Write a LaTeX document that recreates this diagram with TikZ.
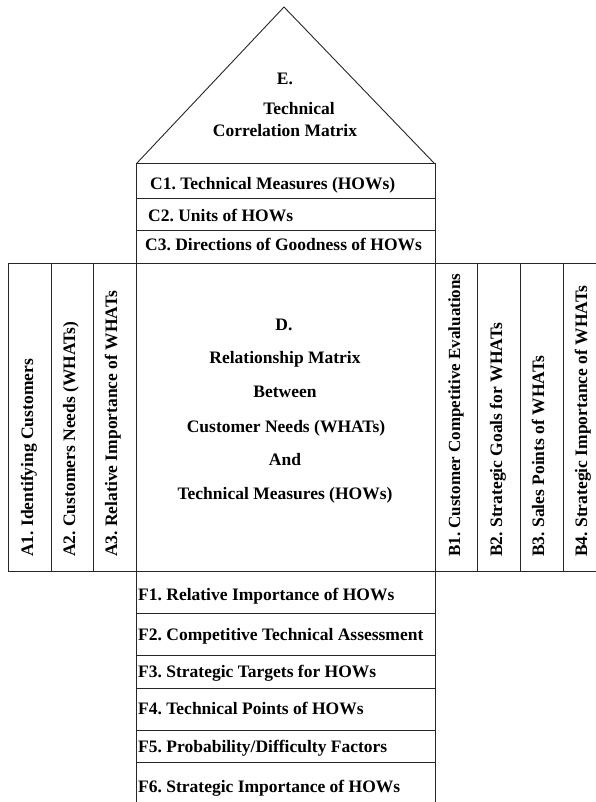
\documentclass[tikz,border=0pt]{standalone}
\usepackage{fontspec}
\setmainfont{Liberation Serif}
\frenchspacing
\begin{document}
\begin{tikzpicture}[x=1pt,y=-1pt,
  frame/.style={line width=0.9pt, black!85},
  lbl/.style={font=\fontsize{17.5}{20}\selectfont\bfseries\frenchspacing, inner sep=0pt},
  vlbl/.style={lbl, rotate=90, anchor=base west}]
\useasboundingbox (0,0) rectangle (595,802);
% roof
\draw[frame] (137,163) -- (284,7) -- (434,163);
% main column
\draw[frame] (136,163) -- (136,802);
\draw[frame] (435,163) -- (435,802);
\foreach \yy in {163,198,230,613,655,688,730,762}
  \draw[frame] (136,\yy) -- (435,\yy);
% wide horizontal lines
\draw[frame] (8,263) -- (596,263);
\draw[frame] (8,571) -- (596,571);
% side columns
\foreach \xx in {8,51,93,477,520,563}
  \draw[frame] (\xx,263) -- (\xx,571);
% roof text
\node[lbl, anchor=base] (e1) at (285,85) {E.};
\node[lbl, anchor=base] (e2) at (299,115) {Technical};
\node[lbl, anchor=base] (e3) at (285,137) {Correlation Matrix};
% C rows
\node[lbl, anchor=base west] (c1) at (150,190) {C1. Technical Measures (HOWs)};
\node[lbl, anchor=base west] (c2) at (148,222) {C2. Units of HOWs};
\node[lbl, anchor=base west] (c3) at (145,251) {C3. Directions of Goodness of HOWs};
% D text
\node[lbl, anchor=base] (d1) at (284,330) {D.};
\node[lbl, anchor=base] (d2) at (285,363) {Relationship Matrix};
\node[lbl, anchor=base] (d3) at (285,397) {Between};
\node[lbl, anchor=base] (d4) at (286,432) {Customer Needs (WHATs)};
\node[lbl, anchor=base] (d5) at (285,465) {And};
\node[lbl, anchor=base] (d6) at (285,499) {Technical Measures (HOWs)};
% A columns
\node[vlbl] (a1) at (33,557) {A1. Identifying Customers};
\node[vlbl] (a2) at (75,557) {A2. Customers Needs (WHATs)};
\node[vlbl] (a3) at (117,557) {A3. Relative Importance of WHATs};
% B columns
\node[vlbl, font=\fontsize{17}{20}\selectfont\bfseries] (b1) at (460,557) {B1. Customer Competitive Evaluations};
\node[vlbl] (b2) at (502,557) {B2. Strategic Goals for WHATs};
\node[vlbl] (b3) at (544,557) {B3. Sales Points of WHATs};
\node[vlbl] (b4) at (587,557) {B4. Strategic Importance of WHATs};
% F rows
\node[lbl, anchor=base west] (f1) at (138,600) {F1. Relative Importance of HOWs};
\node[lbl, anchor=base west] (f2) at (138,640) {F2. Competitive Technical Assessment};
\node[lbl, anchor=base west] (f3) at (138,677) {F3. Strategic Targets for HOWs};
\node[lbl, anchor=base west] (f4) at (138,714) {F4. Technical Points of HOWs};
\node[lbl, anchor=base west] (f5) at (138,752) {F5. Probability/Difficulty Factors};
\node[lbl, anchor=base west] (f6) at (138,792) {F6. Strategic Importance of HOWs};
\end{tikzpicture}
\end{document}
